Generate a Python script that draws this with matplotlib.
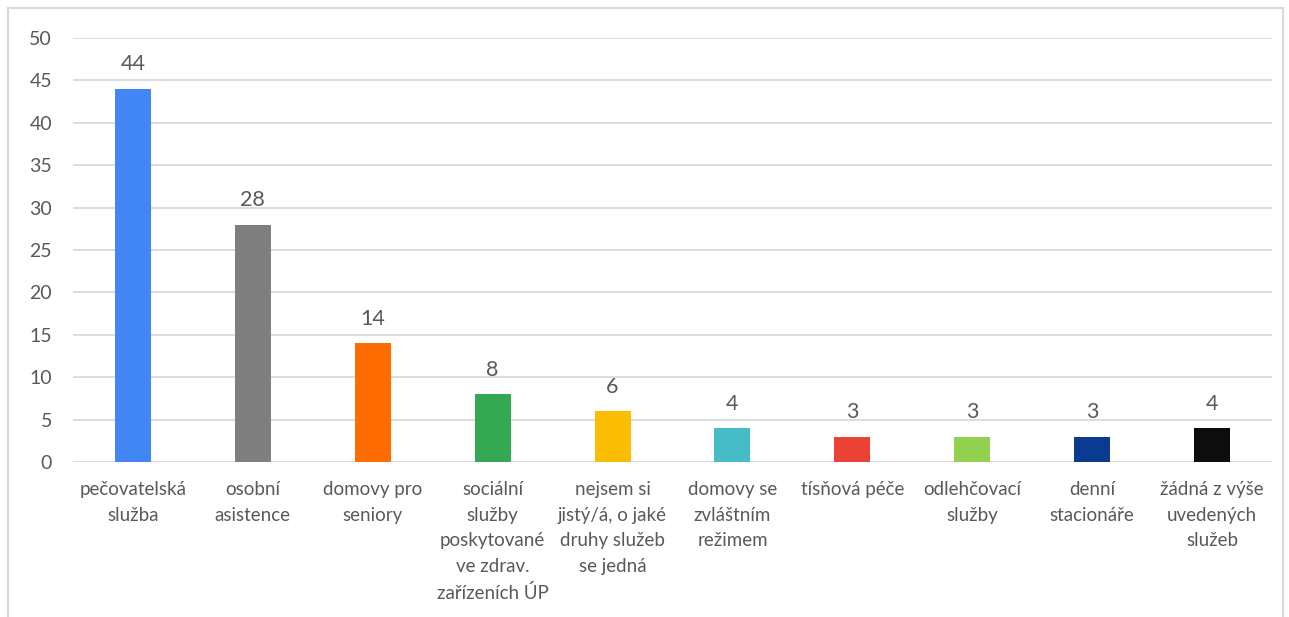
import matplotlib.pyplot as plt
from matplotlib.patches import Rectangle

categories = [
    "pečovatelská\nslužba",
    "osobní\nasistence",
    "domovy pro\nseniory",
    "sociální\nslužby\nposkytované\nve zdrav.\nzařízeních ÚP",
    "nejsem si\njistý/á, o jaké\ndruhy služeb\nse jedná",
    "domovy se\nzvláštním\nrežimem",
    "tísňová péče",
    "odlehčovací\nslužby",
    "denní\nstacionáře",
    "žádná z výše\nuvedených\nslužeb",
]
values = [44, 28, 14, 8, 6, 4, 3, 3, 3, 4]
colors = ["#4285F4", "#7F7F7F", "#FF6D01", "#34A853", "#FBBC04",
          "#46BDC6", "#EA4335", "#92D050", "#0B3A91", "#0D0D0D"]

plt.rcParams["font.family"] = ["Lato", "DejaVu Sans"]
text_color = "#595959"

W, H = 1289, 617
fig = plt.figure(figsize=(W / 100, H / 100), dpi=100)
fig.patches.append(Rectangle((8 / W, -0.01), (1283 - 8) / W, (H - 8) / H + 0.01,
                             transform=fig.transFigure, fill=False,
                             edgecolor="#D9D9D9", linewidth=1.5))

ax = fig.add_axes([73 / W, (H - 462) / H, (1272 - 73) / W, (462 - 38) / H])
x = range(len(values))
bars = ax.bar(x, values, width=0.3, color=colors, zorder=3)
for xi, v in zip(x, values):
    ax.text(xi, v + 1.7, str(v), ha="center", va="bottom", fontsize=15.5, color=text_color)

ax.set_xlim(-0.5, len(values) - 0.5)
ax.set_ylim(0, 50)
ax.set_yticks(range(0, 51, 5))
ax.yaxis.grid(True, color="#D9D9D9", linewidth=1.3, zorder=0)
for s in ax.spines.values():
    s.set_visible(False)
ax.tick_params(axis="y", length=0, pad=15, labelsize=14, labelcolor=text_color)
ax.tick_params(axis="x", length=0, pad=14, labelsize=13.5, labelcolor=text_color)
ax.set_xticks(list(x))
ax.set_xticklabels(categories, linespacing=1.6)

plt.savefig("out.png", dpi=100)
plt.close()
